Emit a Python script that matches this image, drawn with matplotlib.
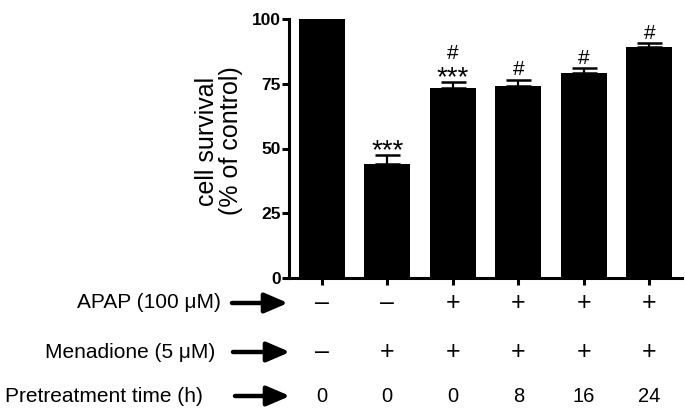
import matplotlib
matplotlib.use('Agg')
import numpy as np
from matplotlib import pyplot as plt
from matplotlib import transforms

plt.rcParams['font.family'] = ['Liberation Sans', 'DejaVu Sans']

# Данные
survival = [100, 44, 73.5, 74, 79, 89.3]
err_up = [0, 3.5, 2, 2.6, 2, 1.3]
stars = ['', '***', '***', '', '', '']
hashes = ['', '', '#', '#', '#', '#']
apap = ['\u2013', '\u2013', '+', '+', '+', '+']
menadione = ['\u2013', '+', '+', '+', '+', '+']
pretreat = ['0', '0', '0', '8', '16', '24']
row_labels = ['APAP (100 \u03bcM)', 'Menadione (5 \u03bcM)', 'Pretreatment time (h)']

W, H = 685, 409
fig = plt.figure(figsize=(W / 100, H / 100), dpi=100)
ax = fig.add_axes([289 / W, 1 - 278 / H, (682 - 289) / W, 259 / H])

x = np.arange(len(survival))
ax.bar(x, survival, width=0.70, color='black', zorder=2)

# только верхние усы, как в GraphPad
idx = [i for i in x if err_up[i] > 0]
ax.errorbar(x[idx], np.array(survival)[idx],
            yerr=[np.zeros(len(idx)), np.array(err_up)[idx]],
            fmt='none', ecolor='black', elinewidth=1.6, capsize=9, capthick=1.8, zorder=3)

# значки над столбиками
for i in x:
    top = survival[i] + err_up[i]
    off = 3
    if stars[i]:
        ax.annotate(stars[i], (i, top), xytext=(0, -2), textcoords='offset points',
                    ha='center', va='baseline', fontsize=20)
        off = 17
    if hashes[i]:
        ax.annotate(hashes[i], (i, top), xytext=(0, off), textcoords='offset points',
                    ha='center', va='baseline', fontsize=15)

ax.set_xlim(-0.5, 5.5)
ax.set_ylim(0, 100)
ax.set_yticks([0, 25, 50, 75, 100])
ax.set_xticks(x)
ax.set_xticklabels([])
for s in ['top', 'right']:
    ax.spines[s].set_visible(False)
for s in ['left', 'bottom']:
    ax.spines[s].set_linewidth(2.2)
    ax.spines[s].set_zorder(4)
ax.tick_params(axis='both', width=2.2, length=5, direction='out')
ax.tick_params(axis='y', pad=1, labelsize=12.5)
for lab in ax.get_yticklabels():
    lab.set_fontweight('bold')

fig.text(219 / W, 1 - 141 / H, 'cell survival\n(% of control)', rotation=90,
         ha='center', va='center', fontsize=18, linespacing=0.95, multialignment='center')

# строки условий под осью
row_y = [303, 352, 396]
row_size = [18, 18, 14.5]
label_right = [221, 215, 203]
arrow_x0 = [232, 233, 235]
arrow_x1 = [288, 290, 290]
tr = transforms.blended_transform_factory(ax.transData, fig.transFigure)
for r, vals in enumerate([apap, menadione, pretreat]):
    yf = 1 - row_y[r] / H
    fig.text(label_right[r] / W, yf, row_labels[r], ha='right', va='center', fontsize=15)
    ax.annotate('', xy=(arrow_x1[r], H - row_y[r]), xytext=(arrow_x0[r], H - row_y[r]),
                xycoords='figure pixels', textcoords='figure pixels', annotation_clip=False,
                arrowprops=dict(arrowstyle='-|>,head_length=0.7,head_width=0.3', lw=3.2,
                                color='black', shrinkA=0, shrinkB=0, mutation_scale=20))
    for i, v in enumerate(vals):
        ax.text(i, yf, v, transform=tr, ha='center', va='center', fontsize=row_size[r],
                clip_on=False)

fig.savefig('out.png', dpi=100)
